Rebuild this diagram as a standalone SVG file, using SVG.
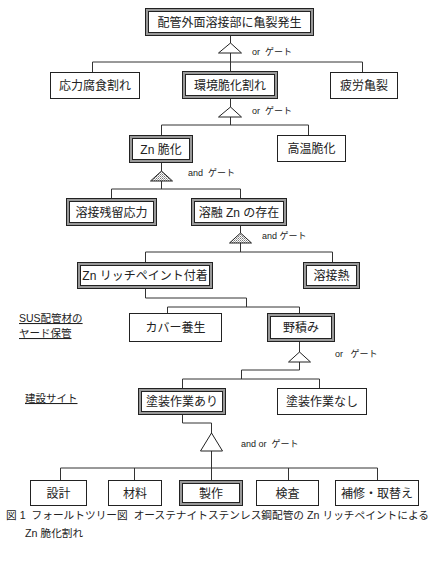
<svg xmlns="http://www.w3.org/2000/svg" width="438" height="570" viewBox="0 0 438 570" xml:space="preserve">
<defs>
<pattern id="hatch" width="2" height="2" patternUnits="userSpaceOnUse">
<rect width="2" height="2" fill="#fff"/>
<rect width="1" height="1" fill="#777"/>
<rect x="1" y="1" width="1" height="1" fill="#aaa"/>
</pattern>
</defs>
<style>
text{font-family:"Liberation Sans","Noto Sans CJK JP",sans-serif;fill:#222;white-space:pre}
.t{font-size:12px;text-anchor:middle}
.g{font-size:9px}
.l{font-size:10.5px;text-decoration:underline}
.cap{font-size:10.7px}
.s{fill:#fff;stroke:#222;stroke-width:1}
.d1{fill:#fff;stroke:#222;stroke-width:4}
.d2{fill:none;stroke:#999;stroke-width:2}
.c{fill:none;stroke:#333;stroke-width:1}
.or{fill:#fff;stroke:#222;stroke-width:1}
.and{fill:url(#hatch);stroke:#222;stroke-width:1}
</style>
<rect width="438" height="570" fill="#fff"/>
<g id="connectors">
<path class="c" d="M230.5,36V62M92.5,62H362.5M92.5,62V72M230.5,62V72M362.5,62V72"/>
<path class="c" d="M230.5,99V125M161.5,125H308.5M161.5,125V135M308.5,125V135"/>
<path class="c" d="M161.5,163V189M111.5,189H240.5M111.5,189V198M240.5,189V198"/>
<path class="c" d="M240.5,226V252M145.5,252H332.5M145.5,252V262M332.5,252V262"/>
<path class="c" d="M145.5,289V298H246.5V307M167.5,307H299.5M167.5,307V313M299.5,307V313"/>
<path class="c" d="M299.5,342V370H241.5V379M182.5,379H319.5M182.5,379V388M319.5,379V388"/>
<path class="c" d="M182.5,415V423H211.5V468M60.5,468H377.5M60.5,468V480M134.5,468V480M211.5,468V480M288.5,468V480M377.5,468V480"/>
</g>
<g id="gates">
<g id="gate1"><polygon class="or" points="230.5,43 218.5,53 241.5,53"/><text class="g" x="252" y="55">or  ゲート</text></g>
<g id="gate2"><polygon class="or" points="230.5,107 218.5,117 241.5,117"/><text class="g" x="252" y="114">or  ゲート</text></g>
<g id="gate3"><polygon class="and" points="161.5,171 150.5,181 172.5,181"/><text class="g" x="188" y="176">and  ゲート</text></g>
<g id="gate4"><polygon class="and" points="240.5,233 229.5,243 251.5,243"/><text class="g" x="262" y="239">and ゲート</text></g>
<g id="gate5"><polygon class="or" points="299.5,352 288.5,362 310.5,362"/><text class="g" x="335" y="357">or   ゲート</text></g>
<g id="gate6"><polygon class="or" points="211.5,433 200.5,451 222.5,451"/><text class="g" x="241" y="447">and or  ゲート</text></g>
</g>
<g id="n1"><rect class="d1" x="147" y="10" width="165" height="24"/><rect class="d2" x="147" y="10" width="165" height="24"/><text class="t" x="229.5" y="26.5">配管外面溶接部に亀裂発生</text></g>
<g id="n2"><rect class="s" x="50.5" y="72.5" width="89" height="26"/><text class="t" x="95" y="90">応力腐食割れ</text></g>
<g id="n3"><rect class="d1" x="184" y="73" width="92" height="24"/><rect class="d2" x="184" y="73" width="92" height="24"/><text class="t" x="230" y="89.5">環境脆化割れ</text></g>
<g id="n4"><rect class="s" x="330.5" y="72.5" width="67" height="26"/><text class="t" x="364" y="90">疲労亀裂</text></g>
<g id="n5"><rect class="d1" x="131" y="137" width="60" height="24"/><rect class="d2" x="131" y="137" width="60" height="24"/><text class="t" x="161" y="153.5">Zn 脆化</text></g>
<g id="n6"><rect class="s" x="277.5" y="135.5" width="68" height="26"/><text class="t" x="311.5" y="153">高温脆化</text></g>
<g id="n7"><rect class="d1" x="68" y="200" width="87" height="24"/><rect class="d2" x="68" y="200" width="87" height="24"/><text class="t" x="111.5" y="216.5">溶接残留応力</text></g>
<g id="n8"><rect class="d1" x="193" y="200" width="92" height="24"/><rect class="d2" x="193" y="200" width="92" height="24"/><text class="t" x="239" y="216.5">溶融 Zn の存在</text></g>
<g id="n9"><rect class="d1" x="79" y="264" width="132" height="23"/><rect class="d2" x="79" y="264" width="132" height="23"/><text class="t" x="145" y="280">Zn リッチペイント付着</text></g>
<g id="n10"><rect class="d1" x="305" y="264" width="53" height="23"/><rect class="d2" x="305" y="264" width="53" height="23"/><text class="t" x="331.5" y="280">溶接熱</text></g>
<g id="n11"><rect class="s" x="129.5" y="313.5" width="92" height="28"/><text class="t" x="175.5" y="332">カバー養生</text></g>
<g id="n12"><rect class="d1" x="269" y="315" width="64" height="25"/><rect class="d2" x="269" y="315" width="64" height="25"/><text class="t" x="301" y="332">野積み</text></g>
<g id="n13"><rect class="d1" x="140" y="390" width="84" height="23"/><rect class="d2" x="140" y="390" width="84" height="23"/><text class="t" x="182" y="406">塗装作業あり</text></g>
<g id="n14"><rect class="s" x="277.5" y="388.5" width="89" height="26"/><text class="t" x="322" y="406">塗装作業なし</text></g>
<g id="n15"><rect class="s" x="30.5" y="480.5" width="56" height="25"/><text class="t" x="58.5" y="497.5">設計</text></g>
<g id="n16"><rect class="s" x="108.5" y="480.5" width="53" height="25"/><text class="t" x="135" y="497.5">材料</text></g>
<g id="n17"><rect class="d1" x="181" y="482" width="60" height="22"/><rect class="d2" x="181" y="482" width="60" height="22"/><text class="t" x="211" y="497.5">製作</text></g>
<g id="n18"><rect class="s" x="256.5" y="480.5" width="62" height="25"/><text class="t" x="287.5" y="497.5">検査</text></g>
<g id="n19"><rect class="s" x="335.5" y="480.5" width="83" height="25"/><text class="t" x="377" y="497.5">補修・取替え</text></g>
<g id="labels">
<text class="l" x="19" y="322">SUS配管材の</text>
<text class="l" x="19" y="337">ヤード保管</text>
<text class="l" x="25" y="402">建設サイト</text>
<text class="cap" x="6" y="519" textLength="423" lengthAdjust="spacingAndGlyphs">図 1  フォールトツリー図  オーステナイトステンレス鋼配管の Zn リッチペイントによる</text>
<text class="cap" x="25" y="537">Zn 脆化割れ</text>
</g>
</svg>
